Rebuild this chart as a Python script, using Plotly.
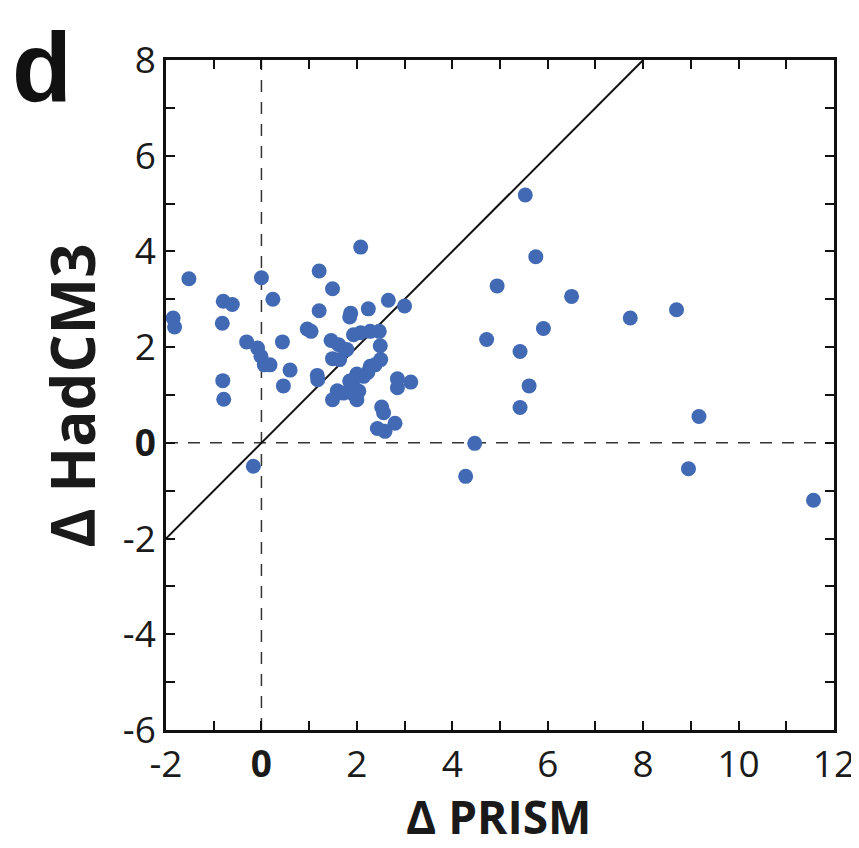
import plotly.graph_objects as go

prism = [2.08, -1.52, 0.00, 1.21, 1.49, 0.24, -0.80, -0.61, 2.66, 3.00, 2.24, 1.21,
         1.87, 1.85, -1.85, -1.82, -0.82, 0.96, 1.04, 1.93, 2.08, 2.28, 2.47, -0.31,
         0.44, 1.46, 1.62, 1.79, 2.49, -0.08, -0.01, 0.06, 0.18, 1.49, 1.64, 2.50,
         2.28, 2.38, 0.60, 2.23, 2.14, 2.00, 1.93, 1.85, 1.17, 1.18, -0.81, 2.85,
         3.13, 2.85, 0.46, 1.59, 1.72, 1.90, 2.04, 1.49, 2.00, 1.93, -0.79, 2.52,
         2.56, 2.80, 2.43, 2.59, -0.17,
         5.53, 5.75, 4.94, 6.50, 7.73, 8.70, 5.91, 4.72, 5.42, 5.61, 5.42, 9.17,
         4.47, 4.28, 8.95, 11.57]
hadcm3 = [4.09, 3.43, 3.45, 3.59, 3.22, 3.00, 2.96, 2.89, 2.98, 2.86, 2.80, 2.76,
          2.71, 2.63, 2.61, 2.42, 2.50, 2.38, 2.33, 2.26, 2.30, 2.33, 2.33, 2.11,
          2.11, 2.14, 2.05, 1.95, 2.03, 1.98, 1.81, 1.63, 1.63, 1.76, 1.74, 1.74,
          1.60, 1.63, 1.52, 1.47, 1.39, 1.44, 1.32, 1.29, 1.41, 1.32, 1.30, 1.34,
          1.27, 1.15, 1.19, 1.09, 1.04, 1.04, 1.08, 0.90, 0.90, 1.04, 0.91, 0.75,
          0.63, 0.41, 0.30, 0.24, -0.49,
          5.18, 3.89, 3.28, 3.06, 2.61, 2.78, 2.39, 2.16, 1.91, 1.19, 0.74, 0.55,
          -0.01, -0.70, -0.54, -1.20]

x_range = [-2, 12]
y_range = [-6, 8]
x_tickvals = [-2, 0, 2, 4, 6, 8, 10, 12]
x_ticktext = ["-2", "<b>0</b>", "2", "4", "6", "8", "10", "12"]
y_tickvals = [-6, -4, -2, 0, 2, 4, 6, 8]
y_ticktext = ["-6", "-4", "-2", "<b>0</b>", "2", "4", "6", "8"]
one_to_one = [-2, 8]
x_title = "<b>Δ PRISM</b>"
y_title = "<b>Δ HadCM3</b>"
panel_label = "<b>d</b>"

FONT = "Open Sans, Noto Sans, sans-serif"

fig = go.Figure()
# zero reference lines (dashed)
fig.add_trace(go.Scatter(x=[0, 0], y=y_range, mode="lines",
                         line=dict(color="#333333", width=1.5, dash="12px,10px"),
                         hoverinfo="skip", showlegend=False))
fig.add_trace(go.Scatter(x=x_range, y=[0, 0], mode="lines",
                         line=dict(color="#333333", width=1.5, dash="12px,10px"),
                         hoverinfo="skip", showlegend=False))
# 1:1 line
fig.add_trace(go.Scatter(x=one_to_one, y=one_to_one, mode="lines",
                         line=dict(color="#111111", width=2),
                         hoverinfo="skip", showlegend=False))
# data
fig.add_trace(go.Scatter(x=prism, y=hadcm3, mode="markers",
                         marker=dict(color="#4169b4", size=15, line=dict(width=0)),
                         showlegend=False))

axis_common = dict(showline=True, linecolor="#111111", linewidth=2.5, mirror="allticks",
                   ticks="inside", ticklen=9, tickwidth=1.5, tickcolor="#111111",
                   showgrid=False, zeroline=False,
                   tickfont=dict(family=FONT, size=37, color="#1a1a1a"))

fig.update_xaxes(range=x_range, tickmode="array", tickvals=x_tickvals, ticktext=x_ticktext,
                 minor=dict(dtick=1, ticks="inside", ticklen=9, tickwidth=1.5, tickcolor="#111111"),
                 **axis_common)
fig.update_yaxes(range=y_range, tickmode="array", tickvals=y_tickvals, ticktext=y_ticktext,
                 minor=dict(dtick=1, ticks="inside", ticklen=9, tickwidth=1.5, tickcolor="#111111"),
                 **axis_common)

fig.update_layout(
    width=859, height=848,
    margin=dict(l=158, r=29, t=52, b=126),
    paper_bgcolor="white", plot_bgcolor="white",
    annotations=[
        dict(text=panel_label, xref="paper", yref="paper", x=-0.185, y=1.075,
             xanchor="center", yanchor="top", showarrow=False,
             font=dict(family="Liberation Sans, Arial, sans-serif", size=98, color="#111111")),
        dict(text=x_title, xref="paper", yref="paper", x=0.4985, y=-0.129,
             xanchor="center", yanchor="middle", showarrow=False,
             font=dict(family=FONT, size=46, color="#1a1a1a")),
        dict(text=y_title, xref="paper", yref="paper", x=-0.141, y=0.4985, textangle=-90,
             xanchor="center", yanchor="middle", showarrow=False,
             font=dict(family=FONT, size=60, color="#1a1a1a")),
    ],
)

fig.write_html("out.html")
